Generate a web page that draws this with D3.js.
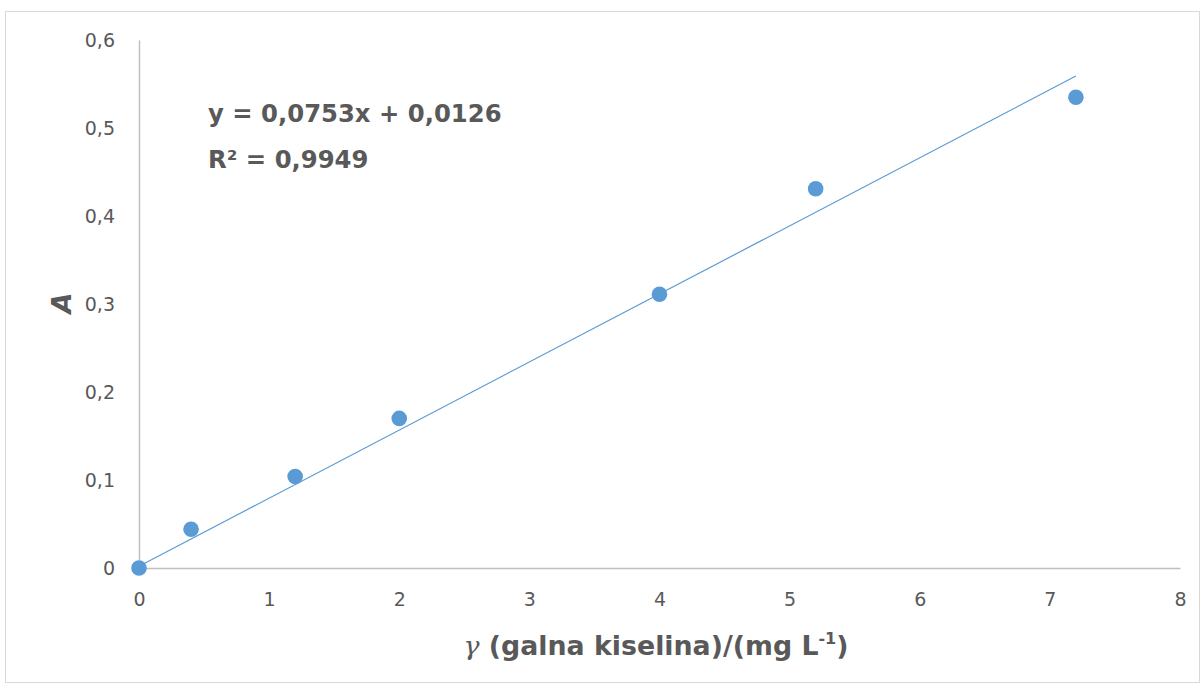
<!DOCTYPE html>
<html>
<head>
<meta charset="utf-8">
<script src="https://cdn.jsdelivr.net/npm/d3@7"></script>
<style>
  body { margin: 0; background: #fff; }
  text { font-family: "DejaVu Sans", Verdana, sans-serif; fill: #595959; }
</style>
</head>
<body>
<svg id="chart"></svg>
<script>
// calibration data: gallic acid concentration vs absorbance
const conc = [0, 0.4, 1.2, 2, 4, 5.2, 7.2];
const absorb = [0, 0.044, 0.104, 0.17, 0.311, 0.431, 0.535];
const xTicks = [0, 1, 2, 3, 4, 5, 6, 7, 8];
const yTicks = [0, 0.1, 0.2, 0.3, 0.4, 0.5, 0.6];
// trendline ends as drawn in the picture
const trendX = [0, 7.2];
const trendY = [0.002, 0.559];

const width = 1202, height = 685;
const margin = { top: 40, left: 139, bottom: 117, right: 22 };
const iwidth = width - margin.left - margin.right;
const iheight = height - margin.top - margin.bottom;

const svg = d3.select('#chart').attr('width', width).attr('height', height);

svg.append('rect')
  .attr('x', 5.5).attr('y', 11.5)
  .attr('width', width - 8).attr('height', height - 14)
  .attr('fill', 'none').attr('stroke', '#d9d9d9');

const g = svg.append('g')
  .attr('transform', `translate(${margin.left},${margin.top})`);

const x = d3.scaleLinear().domain([0, 8]).range([0, iwidth]);
const y = d3.scaleLinear().domain([0, 0.6]).range([iheight, 0]);
const fmt = d => d === 0 ? '0' : d3.format('.1f')(d).replace('.', ',');

const xAxis = g.append('g')
  .attr('transform', `translate(0,${iheight})`)
  .call(d3.axisBottom(x).tickValues(xTicks).tickSize(0).tickPadding(25)
    .tickFormat(d => d));
const yAxis = g.append('g')
  .call(d3.axisLeft(y).tickValues(yTicks).tickSize(0).tickPadding(24)
    .tickFormat(fmt));

[xAxis, yAxis].forEach(a => {
  a.select('.domain').attr('stroke', '#bfbfbf').attr('stroke-width', 1.5);
  a.selectAll('text').attr('font-size', 19).attr('fill', '#595959')
    .attr('font-family', '"DejaVu Sans", Verdana, sans-serif');
});

// trendline
g.append('line')
  .attr('x1', x(trendX[0])).attr('y1', y(trendY[0]))
  .attr('x2', x(trendX[1])).attr('y2', y(trendY[1]))
  .attr('stroke', '#5b9bd5').attr('stroke-width', 1.2);

// points
g.selectAll('circle').data(conc).enter().append('circle')
  .attr('cx', (d) => x(d))
  .attr('cy', (d, i) => y(absorb[i]))
  .attr('r', 7.8)
  .attr('fill', '#5b9bd5');

// equation label
svg.append('text').attr('x', 208).attr('y', 122)
  .attr('font-size', 24.3).attr('font-weight', 'bold')
  .text('y = 0,0753x + 0,0126');
svg.append('text').attr('x', 208).attr('y', 168)
  .attr('font-size', 24.3).attr('font-weight', 'bold')
  .text('R² = 0,9949');

// axis titles
const xt = svg.append('text').attr('x', 656).attr('y', 655)
  .attr('text-anchor', 'middle').attr('font-size', 26.8).attr('font-weight', 'bold');
xt.append('tspan').attr('font-family', '"DejaVu Serif", serif').attr('font-style', 'italic')
  .attr('font-weight', 'normal').text('γ');
xt.append('tspan').text(' (galna kiselina)/(mg L');
xt.append('tspan').attr('font-size', 16).attr('dy', -11).text('-1');
xt.append('tspan').attr('dy', 11).text(')');

svg.append('text')
  .attr('transform', 'translate(71,303) rotate(-90)')
  .attr('text-anchor', 'middle').attr('font-size', 27)
  .attr('font-weight', 'bold').attr('font-style', 'italic')
  .text('A');
</script>
</body>
</html>
